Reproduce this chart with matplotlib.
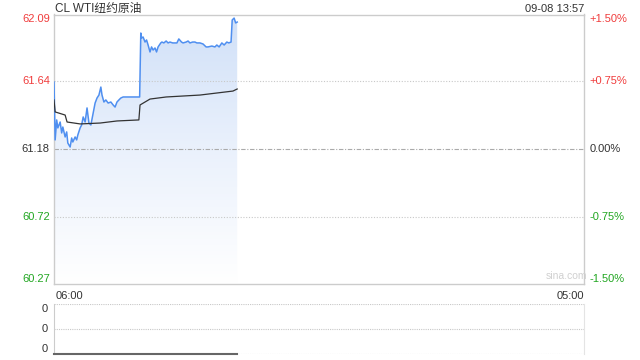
import matplotlib
matplotlib.use('Agg')
import matplotlib.pyplot as plt
import matplotlib.transforms as mtransforms
from matplotlib.colors import LinearSegmentedColormap
import numpy as np

plt.rcParams['font.family'] = ['Liberation Sans', 'Noto Sans CJK SC', 'DejaVu Sans']

# minutes after 06:00 and price
price_min = [0, 3, 7, 10, 16, 20, 23, 29, 33, 36, 42, 46, 49, 55, 59, 62, 68, 72, 76, 81,
             86, 91, 96, 101, 107, 112, 117, 122, 125, 130, 135, 141, 148, 154, 159, 164,
             169, 174, 180, 223, 226, 228, 232, 237, 241, 245, 250, 254, 258, 263, 267,
             271, 278, 281, 286, 292, 297, 302, 309, 315, 320, 325, 332, 336, 344, 349,
             354, 361, 367, 372, 380, 388, 396, 401, 411, 419, 424, 430, 437, 443, 450,
             455, 461, 464, 469, 473, 477]
price = [61.634, 61.243, 61.378, 61.324, 61.364, 61.290, 61.330, 61.263, 61.297, 61.222,
         61.195, 61.256, 61.229, 61.263, 61.243, 61.276, 61.324, 61.344, 61.398, 61.364,
         61.459, 61.357, 61.344, 61.411, 61.492, 61.526, 61.546, 61.600, 61.546, 61.499,
         61.513, 61.492, 61.499, 61.479, 61.465, 61.499, 61.513, 61.526, 61.533, 61.533,
         61.965, 61.931, 61.938, 61.904, 61.918, 61.884, 61.837, 61.871, 61.850, 61.864,
         61.837, 61.871, 61.898, 61.904, 61.898, 61.911, 61.898, 61.904, 61.898, 61.898,
         61.898, 61.925, 61.904, 61.898, 61.904, 61.911, 61.898, 61.904, 61.904, 61.898,
         61.898, 61.891, 61.871, 61.871, 61.877, 61.871, 61.884, 61.871, 61.898, 61.884,
         61.904, 61.898, 61.904, 62.053, 62.066, 62.033, 62.039]

avg_min = [0, 3, 29, 34, 68, 120, 164, 221, 224, 237, 250, 292, 380, 466, 477]
avg_price = [61.513, 61.432, 61.411, 61.364, 61.351, 61.357, 61.371, 61.378, 61.479,
             61.499, 61.519, 61.533, 61.546, 61.573, 61.587]

vol_min = [0, 477]
volume = [0, 0]

prev_close = 61.18
y_ticks = [62.09, 61.64, 61.18, 60.72, 60.27]
pct_labels = ['+1.50%', '+0.75%', '0.00%', '-0.75%', '-1.50%']
tick_colors = ['#f03c3c', '#f03c3c', '#333333', '#21a621', '#21a621']
title = 'CL WTI纽约原油'
stamp = '09-08 13:57'
x_end = 1380

BORDER = '#cccccc'

fig = plt.figure(figsize=(6.4, 3.6), dpi=100)
ax = fig.add_axes([54 / 640, 1 - 284 / 360, 530 / 640, 269.5 / 360])
ax2 = fig.add_axes([54 / 640, 1 - 354 / 360, 530 / 640, 50 / 360])

ax.set_xlim(0, x_end)
ax.set_ylim(y_ticks[-1], y_ticks[0])

# gradient fill under the price line
cmap = LinearSegmentedColormap.from_list('fill', ['#ffffff', '#eaf1fc', '#d0e0f8'])
grad = np.linspace(0, 1, 256).reshape(-1, 1)
img = ax.imshow(grad, cmap=cmap, origin='lower', aspect='auto',
                extent=[0, price_min[-1], y_ticks[-1], y_ticks[0]], zorder=1)
poly = ax.fill_between(price_min, price, y_ticks[-1], color='none', lw=0)
img.set_clip_path(poly.get_paths()[0], transform=ax.transData)

ax.plot(price_min, price, color='#4f8ff0', lw=1.1, zorder=3)
ax.plot(avg_min, avg_price, color='#333333', lw=0.9, zorder=3)

for v in [y_ticks[1], y_ticks[3]]:
    ax.axhline(v, color='#c8c8c8', lw=0.8, ls=(0, (1, 1.5)), zorder=2)
ax.axhline(prev_close, color='#aaaaaa', lw=0.8, ls=(0, (4, 1.5, 1, 1.5)), zorder=2)

ax.set_xticks([])
ax.set_yticks([])
for s in ax.spines.values():
    s.set_color(BORDER)
    s.set_linewidth(1)

tl = mtransforms.blended_transform_factory(ax.transAxes, ax.transData)
vas = ['top', 'center', 'center', 'center', 'bottom']
for v, pl, c, va in zip(y_ticks, pct_labels, tick_colors, vas):
    ax.text(-0.008, v, f'{v:.2f}', color=c, fontsize=8, ha='right', va=va, transform=tl)
    ax.text(1.01, v, pl, color=c, fontsize=8, ha='left', va=va, transform=tl)

ax.text(0.002, 1.01, title, fontsize=8.5, color='#333333', ha='left', va='baseline',
        transform=ax.transAxes)
ax.text(1.0, 1.01, stamp, fontsize=8, color='#333333', ha='right', va='baseline',
        transform=ax.transAxes)
ax.text(0.967, 0.01, 'sina.com', fontsize=7.5, color='#d0d0d0', ha='center', va='bottom',
        transform=ax.transAxes)
ax.text(0.003, -0.025, '06:00', fontsize=8, color='#333333', ha='left', va='top',
        transform=ax.transAxes)
ax.text(1.0, -0.025, '05:00', fontsize=8, color='#333333', ha='right', va='top',
        transform=ax.transAxes)

# volume panel
ax2.set_xlim(0, x_end)
ax2.set_ylim(0, 1)
ax2.plot(vol_min, volume, color='#666666', lw=1.5, zorder=3, clip_on=False)
for v in [0, 0.5, 1]:
    ax2.axhline(v, color='#c8c8c8', lw=0.8, ls=(0, (1, 1)), zorder=1)
ax2.set_xticks([])
ax2.set_yticks([])
for v, va in zip([1, 0.5, 0], ['top', 'center', 'bottom']):
    ax2.text(-0.012, v, '0', fontsize=8, color='#333333', ha='right', va=va,
             transform=ax2.get_yaxis_transform())
for k, s in ax2.spines.items():
    s.set_visible(k in ('left', 'right'))
    s.set_color(BORDER)
ax2.spines['right'].set_color('#e4e4e4')

fig.savefig('out.png', dpi=100)
